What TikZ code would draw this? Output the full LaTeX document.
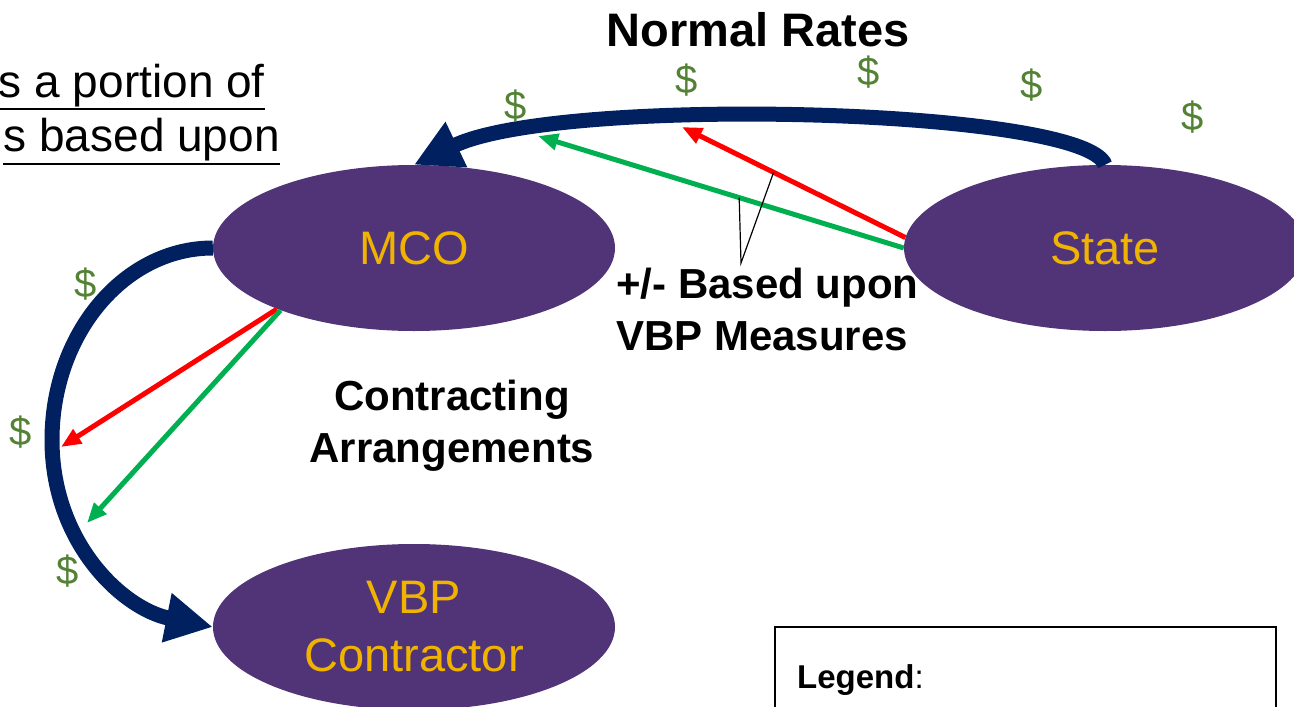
\documentclass[tikz,border=0pt]{standalone}
\usepackage{fontspec}
\setmainfont{Liberation Sans}
\usetikzlibrary{shapes.geometric,arrows.meta,calc}
\definecolor{mcopurple}{RGB}{81,51,120}
\definecolor{mcogold}{RGB}{240,180,0}
\definecolor{flownavy}{RGB}{0,32,96}
\definecolor{flowred}{RGB}{255,0,0}
\definecolor{flowgreen}{RGB}{0,176,80}
\definecolor{dollargreen}{RGB}{84,130,53}
\begin{document}
\begin{tikzpicture}[x=1pt,y=-1pt,
  party/.style={ellipse,fill=mcopurple,text=mcogold,minimum width=402pt,minimum height=166pt,align=center,inner sep=0pt,font=\fontsize{47}{58}\selectfont},
  money/.style={text=dollargreen,inner sep=0pt,font=\fontsize{40}{48}\selectfont},
  lbl/.style={inner sep=0pt,font=\fontsize{42}{52}\selectfont\bfseries},
  intro/.style={anchor=base east,inner sep=0pt,font=\fontsize{46}{55}\selectfont},
  bigflow/.style={draw=flownavy,line width=15pt,-{Triangle[length=47pt,width=47pt]}},
  redflow/.style={draw=flowred,line width=5pt,-{Triangle[length=20pt,width=16pt]}},
  greenflow/.style={draw=flowgreen,line width=5pt,-{Triangle[length=20pt,width=16pt]}}]
		\useasboundingbox (0,0) rectangle (1294,707);
		\clip (0,0) rectangle (1294,707);
		% the three parties
		\node[party] (mco) at (414,248) {MCO};
		\node[party] (state) at (1105,248) {State};
		\node[party] (vbp) at (414,627) {VBP\\Contractor};
		% money flows
		\draw[bigflow] (state.north) .. controls (1085,108) and (560,95) .. (mco.north);
		\draw[bigflow] (mco.west) .. controls (124,248) and (52,334) .. (52,440)
		  .. controls (52,543) and (123,609) .. (vbp.west);
		\coordinate (rtop) at (682,127);
		\coordinate (gtop) at (538,136);
		\coordinate (rleft) at (61,447);
		\coordinate (gleft) at (87,523);
		\draw[redflow] (state.177) -- (rtop);
		\draw[greenflow] (state.west) -- (gtop);
		\draw[redflow] (mco.204) -- (rleft);
		\draw[greenflow] (mco.205) -- (gleft);
		\coordinate (callout) at (741,263);
		\draw[line width=1.2pt] ($(state.west)!0.45!(gtop)$) -- (callout) -- ($(state.177)!0.59!(rtop)$);
		% labels
		\node[lbl,font=\fontsize{47}{56}\selectfont\bfseries] (normal) at (758,30) {Normal Rates};
		\node[lbl,anchor=west,align=left] (measures) at (616,309) {+/- Based upon\\VBP Measures};
		\node[lbl,align=center] (arrange) at (452,426) {Contracting\\Arrangements};
		\node[intro] (intro1) at (265,97) {s a portion of};
		\node[intro] (intro2) at (280,151) {s based upon};
		\draw[line width=2.5pt] ([yshift=-12pt]intro1.base west) -- ([yshift=-12pt]intro1.base east);
		\draw[line width=2.5pt] ([yshift=-13pt]intro2.base west) -- ([yshift=-13pt]intro2.base east);
		% dollars
		\node[money] (d1) at (516,106) {\$};
		\node[money] (d2) at (687,80) {\$};
		\node[money] (d3) at (869,72) {\$};
		\node[money] (d4) at (1032,85) {\$};
		\node[money] (d5) at (1193,117) {\$};
		\node[money] (d6) at (86,284) {\$};
		\node[money] (d7) at (21,432) {\$};
		\node[money] (d8) at (68,571) {\$};
		% legend
		\draw[line width=2.5pt] (775,627) rectangle (1276,740);
		\node[anchor=base west,inner sep=0pt,font=\fontsize{33}{40}\selectfont] (legend) at (797,688) {\textbf{Legend}:};
\end{tikzpicture}
\end{document}
